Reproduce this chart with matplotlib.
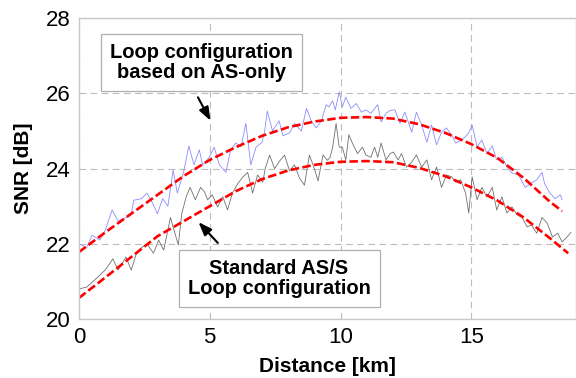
import matplotlib
matplotlib.use("Agg")
import matplotlib.pyplot as plt

plt.rcParams["font.family"] = ["Liberation Sans", "DejaVu Sans"]

# measured SNR, loop configuration based on AS-only (blue trace)
as_only_km = [0.0, 0.3, 0.5, 0.8, 1.0, 1.27, 1.5, 1.8, 2.0, 2.1, 2.4,
              2.6, 2.8, 3.0, 3.2, 3.4, 3.6, 3.76, 4.0, 4.2, 4.4, 4.6,
              4.73, 4.98, 5.17, 5.37, 5.62, 5.8, 6.0, 6.2, 6.38, 6.57, 6.77, 7.0,
              7.1, 7.2, 7.4, 7.65, 7.8, 8.05, 8.24, 8.5, 8.7, 8.88, 9.07, 9.27, 9.45,
              9.55, 9.7, 9.8, 9.95, 10.07, 10.2, 10.4, 10.6, 10.8, 10.97, 11.16, 11.42, 11.55, 11.74,
              11.9, 12.08, 12.27, 12.46, 12.72, 12.9, 13.1, 13.3, 13.48, 13.67, 13.86, 14.05,
              14.25, 14.4, 14.65, 14.9, 15.03, 15.22, 15.4, 15.6, 15.8, 15.97, 16.17, 16.36, 16.55,
              16.8, 17.06, 17.3, 17.5, 17.7, 17.8, 18.0, 18.2, 18.4, 18.47]
as_only_snr = [22.0, 21.9, 22.23, 22.1, 22.35, 22.9, 22.6, 22.7, 22.8, 23.16, 23.2,
               23.35, 23.1, 22.8, 23.2, 23.0, 23.96, 23.35, 23.9, 24.6, 24.1, 24.5,
               24.1, 24.3, 24.57, 24.1, 23.9, 24.5, 24.68, 24.58, 25.2, 24.1, 24.57, 24.7,
               25.0, 25.53, 25.0, 25.27, 24.87, 24.95, 25.2, 25.0, 25.6, 25.27, 25.08, 25.27, 25.7,
               25.64, 25.8, 25.56, 26.04, 25.64, 25.9, 25.6, 25.73, 25.5, 25.56, 25.47, 25.7, 25.24, 25.47,
               25.55, 25.56, 25.2, 25.5, 24.97, 25.5, 25.16, 24.7, 25.16, 24.63, 24.97, 25.08,
               24.89, 24.68, 24.76, 24.95, 25.16, 24.58, 24.76, 24.4, 24.6, 24.23, 24.3, 24.04, 23.88,
               23.83, 23.5, 23.62, 23.7, 23.9, 23.6, 23.35, 23.2, 23.3, 23.17]

# measured SNR, standard AS/S loop configuration (gray trace)
std_km = [0.0, 0.3, 0.7, 1.0, 1.3, 1.5, 1.8, 2.0, 2.2, 2.4,
          2.6, 2.85, 3.05, 3.24, 3.5, 3.6, 3.8, 3.93, 4.1, 4.25, 4.45, 4.65,
          4.8, 4.92, 5.1, 5.3, 5.5, 5.68, 5.87, 6.07, 6.26, 6.45, 6.64, 6.83, 7.03,
          7.12, 7.29, 7.48, 7.67, 7.86, 8.05, 8.24, 8.43, 8.62, 8.81, 9.0, 9.14, 9.33, 9.5,
          9.6, 9.7, 9.83, 9.95, 10.07, 10.2, 10.32, 10.45, 10.65, 10.84, 10.97, 11.16, 11.3, 11.42, 11.55, 11.74,
          11.9, 12.02, 12.2, 12.33, 12.52, 12.72, 12.9, 13.1, 13.3, 13.48, 13.67, 13.86, 14.05,
          14.25, 14.4, 14.59, 14.78, 14.9, 15.03, 15.22, 15.4, 15.6, 15.8, 15.97, 16.17, 16.36, 16.55,
          16.75, 16.94, 17.13, 17.3, 17.5, 17.7, 17.9, 18.1, 18.3, 18.47, 18.66, 18.8]
std_snr = [20.8, 20.85, 21.1, 21.3, 21.6, 21.3, 21.65, 21.3, 21.75, 21.9,
           22.0, 21.75, 22.1, 21.83, 22.7, 22.45, 21.97, 22.8, 23.25, 23.5, 23.17, 23.5,
           23.38, 23.17, 23.3, 22.98, 23.25, 22.9, 23.35, 23.6, 23.77, 23.9, 23.35, 23.83, 23.64,
           24.0, 24.36, 24.0, 24.2, 24.36, 23.94, 24.1, 23.75, 23.56, 24.36, 24.0, 23.67, 24.36, 24.22,
           24.3, 24.57, 25.2, 24.57, 24.57, 24.23, 24.9, 24.68, 24.4, 24.57, 24.36, 24.3, 24.57, 24.3, 24.68, 24.23,
           24.4, 24.44, 24.23, 24.4, 24.04, 24.17, 24.36, 24.04, 24.23, 23.7, 24.04, 23.5, 23.83,
           23.78, 23.64, 23.7, 23.35, 22.82, 23.78, 23.17, 23.5, 23.25, 23.5, 22.9, 23.25, 22.82, 22.98,
           22.77, 22.7, 22.45, 22.5, 22.28, 22.7, 22.55, 22.18, 22.28, 22.05, 22.18, 22.3]

# fitted curves (red dashed)
fit_as_km = [0.0, 1.0, 2.0, 3.0, 4.0, 5.0, 6.0, 7.0, 8.0, 9.0, 10.0, 11.0,
             12.0, 13.0, 14.0, 15.0, 16.0, 17.0, 18.0, 18.47]
fit_as_snr = [21.78, 22.3, 22.8, 23.3, 23.8, 24.23, 24.57, 24.87, 25.1, 25.25, 25.35, 25.37,
              25.33, 25.18, 24.95, 24.65, 24.28, 23.75, 23.12, 22.87]
fit_std_km = [0.0, 1.0, 2.0, 3.0, 4.0, 5.0, 6.0, 7.0, 8.0, 9.0, 10.0, 11.0,
              12.0, 13.0, 14.0, 15.0, 16.0, 17.0, 18.0, 18.7]
fit_std_snr = [20.56, 21.1, 21.65, 22.2, 22.6, 23.0, 23.4, 23.72, 23.95, 24.1, 24.18, 24.2,
               24.17, 24.02, 23.8, 23.5, 23.15, 22.7, 22.15, 21.75]

fig = plt.figure(figsize=(5.76, 3.78), dpi=100)
ax = fig.add_axes([0.137, 0.156, 0.863, 0.796])

ax.plot(as_only_km, as_only_snr, color="#8c8cff", lw=0.6)
ax.plot(std_km, std_snr, color="#707070", lw=0.6)
ax.plot(fit_as_km, fit_as_snr, color="#ff0000", lw=1.9, dashes=(3.2, 1.3))
ax.plot(fit_std_km, fit_std_snr, color="#ff0000", lw=1.9, dashes=(3.2, 1.3))

ax.set_xlim(0, 19)
ax.set_ylim(20, 28)
ax.set_xticks([0, 5, 10, 15])
ax.set_yticks([20, 22, 24, 26, 28])
ax.tick_params(length=0, labelsize=16, pad=6)
ax.grid(True, color="#bcbcbc", ls=(0, (6, 4)), lw=0.8)
for s in ax.spines.values():
    s.set_color("#c8c8c8")
    s.set_linewidth(1.0)

ax.set_xlabel("Distance [km]", fontsize=15, fontweight="bold", labelpad=6)
ax.set_ylabel("SNR [dB]", fontsize=15, fontweight="bold", labelpad=9)

box = dict(boxstyle="square,pad=0.45", fc="white", ec="#b0b0b0", lw=0.9)
ax.text(4.7, 26.82, "Loop configuration\nbased on AS-only", ha="center", va="center",
        fontsize=14.5, fontweight="bold", linespacing=1.1, bbox=box)
ax.text(7.65, 21.08, "Standard AS/S\nLoop configuration", ha="center", va="center",
        fontsize=14.5, fontweight="bold", linespacing=1.1, bbox=box)

arrow = dict(arrowstyle="-|>,head_length=0.8,head_width=0.3", color="black", lw=1.5)
ax.annotate("", xy=(5.08, 25.21), xytext=(4.5, 25.96), arrowprops=arrow)
ax.annotate("", xy=(4.5, 22.63), xytext=(5.38, 21.97), arrowprops=arrow)

fig.savefig("out.png", dpi=100)
